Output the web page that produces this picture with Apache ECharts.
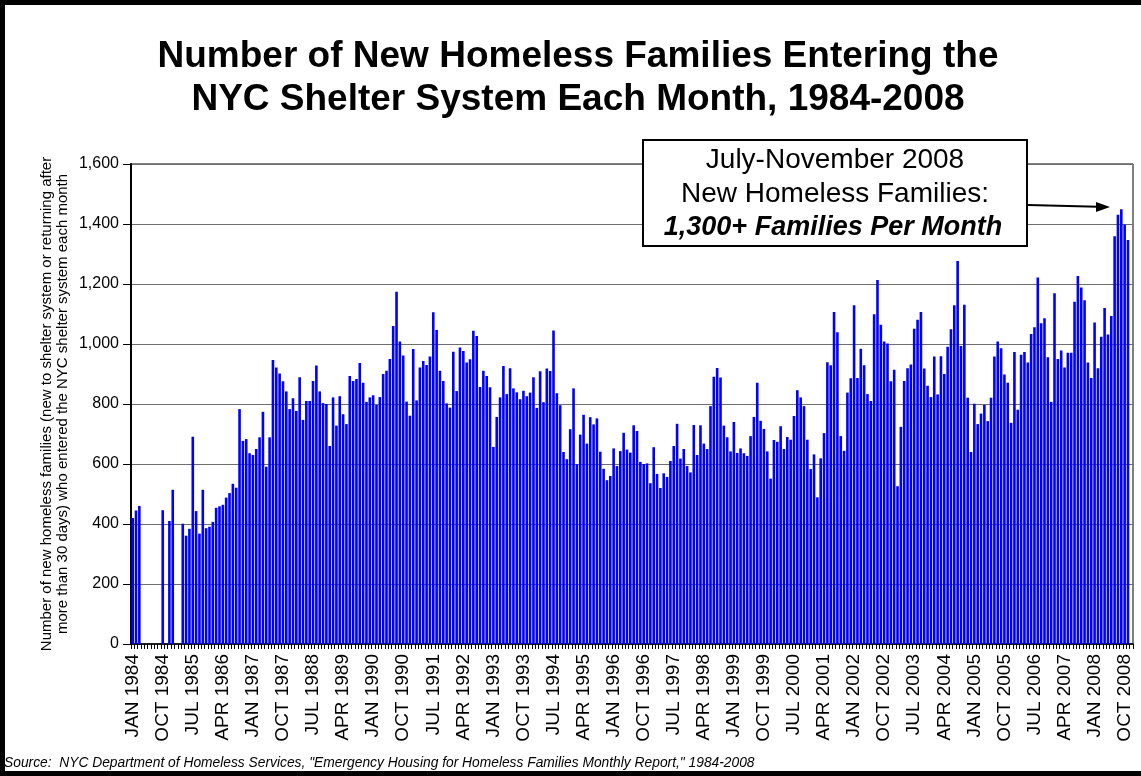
<!DOCTYPE html>
<html>
<head>
<meta charset="utf-8">
<script src="https://cdn.jsdelivr.net/npm/echarts@6/dist/echarts.min.js"></script>
<style>
html,body{margin:0;padding:0;background:#fff;}
#chart{width:1141px;height:776px;}
</style>
</head>
<body>
<div id="chart"></div>
<script>
// ---- Data ----
const MONTHS = ['JAN','FEB','MAR','APR','MAY','JUN','JUL','AUG','SEP','OCT','NOV','DEC'];
const YEARS = [1984,1985,1986,1987,1988,1989,1990,1991,1992,1993,1994,1995,1996,1997,1998,1999,2000,2001,2002,2003,2004,2005,2006,2007,2008];

const v1984 = [420, 445, 460, null, null, null, null, null, null, 446, null, 410];
const v1985 = [514, null, null, 401, 361, 384, 691, 443, 368, 514, 386, 391];
const v1986 = [407, 454, 459, 464, 488, 503, 534, 521, 783, 677, 683, 636];
const v1987 = [630, 650, 689, 774, 591, 689, 947, 922, 902, 876, 842, 783];
const v1988 = [819, 777, 889, 747, 810, 810, 877, 928, 842, 803, 800, 660];
const v1989 = [822, 728, 826, 766, 733, 893, 877, 883, 937, 871, 807, 822];
const v1990 = [829, 797, 823, 900, 911, 950, 1060, 1174, 1008, 962, 808, 761];
const v1991 = [983, 812, 922, 943, 930, 958, 1106, 1047, 911, 877, 802, 788];
const v1992 = [974, 843, 988, 977, 938, 949, 1044, 1027, 857, 911, 893, 856];
const v1993 = [657, 757, 822, 927, 833, 919, 852, 839, 816, 844, 826, 838];
const v1994 = [889, 787, 909, 806, 918, 910, 1045, 836, 796, 640, 616, 716];
const v1995 = [852, 599, 698, 764, 668, 756, 732, 752, 641, 584, 546, 560];
const v1996 = [652, 593, 643, 704, 648, 638, 729, 710, 607, 600, 602, 536];
const v1997 = [656, 567, 520, 569, 557, 610, 660, 734, 618, 650, 593, 572];
const v1998 = [730, 630, 729, 668, 650, 793, 891, 920, 888, 728, 689, 642];
const v1999 = [740, 637, 652, 636, 627, 693, 757, 871, 744, 717, 642, 551];
const v2000 = [680, 674, 726, 650, 690, 681, 760, 846, 822, 793, 681, 583];
const v2001 = [632, 489, 619, 703, 939, 929, 1107, 1039, 693, 644, 838, 886];
const v2002 = [1129, 887, 984, 929, 833, 810, 1099, 1213, 1064, 1008, 1002, 876];
const v2003 = [914, 526, 724, 877, 919, 932, 1051, 1081, 1107, 918, 861, 823];
const v2004 = [958, 832, 959, 900, 991, 1049, 1129, 1277, 993, 1131, 821, 640];
const v2005 = [801, 733, 768, 797, 743, 821, 958, 1008, 986, 898, 871, 737];
const v2006 = [973, 781, 964, 973, 938, 1033, 1056, 1222, 1069, 1086, 956, 807];
const v2007 = [1169, 950, 978, 922, 971, 971, 1141, 1227, 1188, 1146, 938, 887];
const v2008 = [1072, 919, 1024, 1120, 1032, 1093, 1359, 1431, 1449, 1398, 1347, null];

const Y_TICKS = [0, 200, 400, 600, 800, 1000, 1200, 1400, 1600];

const TITLE = 'Number of New Homeless Families Entering the\nNYC Shelter System Each Month, 1984-2008';
const Y_NAME = 'Number of new homeless families (new to shelter system or returning after\nmore than 30 days) who entered the NYC shelter system each month';
const NOTE_LINES = ['July-November 2008', 'New Homeless Families:', '1,300+ Families Per Month'];
const SOURCE = 'Source:  NYC Department of Homeless Services, "Emergency Housing for Homeless Families Monthly Report," 1984-2008';

// ---- Build ----
const categories = [];
YEARS.forEach(y => MONTHS.forEach(m => categories.push(m + ' ' + y)));
const values = [].concat(v1984, v1985, v1986, v1987, v1988, v1989, v1990, v1991, v1992, v1993,
  v1994, v1995, v1996, v1997, v1998, v1999, v2000, v2001, v2002, v2003, v2004, v2005, v2006, v2007, v2008);

const FONT = '"Liberation Sans", Arial, sans-serif';
const fmt = v => String(v).replace(/\B(?=(\d{3})+(?!\d))/g, ',');

const chart = echarts.init(document.getElementById('chart'), null, {renderer: 'canvas'});
chart.setOption({
  animation: false,
  backgroundColor: '#fff',
  title: {
    text: TITLE,
    left: 578,
    textAlign: 'center',
    top: 35,
    padding: 0,
    textStyle: {fontFamily: FONT, fontSize: 37, fontWeight: 'bold', color: '#000', lineHeight: 43}
  },
  grid: {left: 131, right: 8, top: 164, bottom: 132, show: true, borderColor: '#000', borderWidth: 1, containLabel: false},
  xAxis: {
    type: 'category',
    data: categories,
    boundaryGap: true,
    axisLine: {lineStyle: {color: '#000', width: 1.5}},
    axisTick: {show: true, interval: 0, length: 5, lineStyle: {color: '#000'}},
    axisLabel: {interval: 8, rotate: 90, margin: 10, color: '#000', fontFamily: FONT, fontSize: 19},
    splitLine: {show: false}
  },
  yAxis: {
    type: 'value',
    min: Y_TICKS[0],
    max: Y_TICKS[Y_TICKS.length - 1],
    interval: 200,
    name: Y_NAME,
    nameLocation: 'middle',
    nameGap: 60,
    nameMoveOverlap: false,
    nameTextStyle: {fontFamily: FONT, fontSize: 15, color: '#000', lineHeight: 16},
    axisLine: {show: true, lineStyle: {color: '#000', width: 2}},
    axisTick: {show: true, length: 8, lineStyle: {color: '#000'}},
    axisLabel: {margin: 12, color: '#000', fontFamily: FONT, fontSize: 16, formatter: fmt},
    splitLine: {show: true, lineStyle: {color: '#6e6e6e', width: 1}}
  },
  series: [{
    type: 'bar',
    data: values,
    barCategoryGap: '22%',
    itemStyle: {color: '#0000ff'}
  }],
  graphic: [
    {type: 'rect', shape: {x: 2.5, y: 2.5, width: 1160, height: 771}, style: {fill: null, stroke: '#000', lineWidth: 5}, z: 100, silent: true},
    {type: 'rect', shape: {x: 643, y: 140, width: 384, height: 106}, style: {fill: '#fff', stroke: '#000', lineWidth: 2}, z: 100},
    {type: 'text', x: 835, y: 160, style: {text: NOTE_LINES[0], font: '28px ' + FONT, fill: '#000', textAlign: 'center', textVerticalAlign: 'middle'}, z: 101},
    {type: 'text', x: 835, y: 194, style: {text: NOTE_LINES[1], font: '28px ' + FONT, fill: '#000', textAlign: 'center', textVerticalAlign: 'middle'}, z: 101},
    {type: 'text', x: 833, y: 228, style: {text: NOTE_LINES[2], font: 'italic bold 27px ' + FONT, fill: '#000', textAlign: 'center', textVerticalAlign: 'middle'}, z: 101},
    {type: 'line', shape: {x1: 1028, y1: 205, x2: 1098, y2: 206.8}, style: {stroke: '#000', lineWidth: 2}, z: 101},
    {type: 'polygon', shape: {points: [[1110, 207], [1096, 202], [1096, 212]]}, style: {fill: '#000'}, z: 101},
    {type: 'text', x: 4, y: 763, style: {text: SOURCE, font: 'italic 13.8px ' + FONT, fill: '#000', textVerticalAlign: 'middle'}, z: 101}
  ]
});
</script>
</body>
</html>
